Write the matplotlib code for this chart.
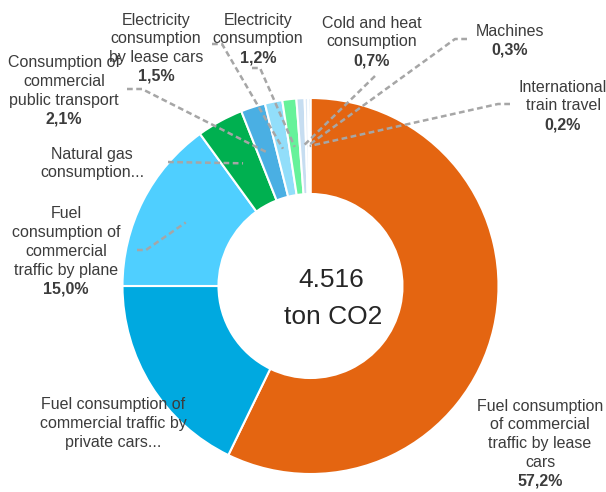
import matplotlib.pyplot as plt
import numpy as np

plt.rcParams['font.family'] = ['Liberation Sans', 'DejaVu Sans']

# data, clockwise from 12 o'clock
names = [
    "Fuel consumption\nof commercial\ntraffic by lease\ncars",
    "Fuel consumption of\ncommercial traffic by\nprivate cars...",
    "Fuel\nconsumption of\ncommercial\ntraffic by plane",
    "Natural gas\nconsumption...",
    "Consumption of\ncommercial\npublic transport",
    "Electricity\nconsumption\nby lease cars",
    "Electricity\nconsumption",
    "Cold and heat\nconsumption",
    "Machines",
    "International\ntrain travel",
]
shares = [57.2, 17.8, 15.0, 4.0, 2.1, 1.5, 1.2, 0.7, 0.3, 0.2]
show_pct = [True, False, True, False, True, True, True, True, True, True]
colors = ['#E46511', '#00A9E0', '#4FCFFF', '#00B050', '#4AAFE3',
          '#92DEFA', '#66F29A', '#C6DDF1', '#DCE9F6', '#B4D3EE']
total_text = ["4.516", "ton CO2"]

# layout (pixel coords, y from top)
W, H = 606, 492
cx, cy = 310.5, 286
R = 188
ring = 96
label_pos = [(540, 406), (113, 405), (66, 214), (92, 154), (64, 63),
             (156, 20), (258, 20), (372, 23), (510, 31), (563, 87)]
leader_pts = [None, None, [(137, 250), (146, 250)], [(168, 162)],
              [(127, 89), (142, 89)], [(212, 44), (222, 44)],
              [(252, 68), (260, 68)], [(375, 76)],
              [(467, 39), (455, 39)], [(510, 104), (498, 104)]]
line_step = 18.8
txt_color = '#3C3C3C'


def py(y):
    return H - y


fig = plt.figure(figsize=(W / 100, H / 100), dpi=100)
ax = fig.add_axes([0, 0, 1, 1])

wedges, _ = ax.pie(shares, colors=colors, startangle=90, counterclock=False,
                   radius=R, center=(cx, py(cy)),
                   wedgeprops=dict(width=ring, edgecolor='white', linewidth=1.5))

ax.set_xlim(0, W)
ax.set_ylim(0, H)
ax.set_aspect('equal')
ax.axis('off')

# leader lines
r_mid = R - ring / 2
for w, pts in zip(wedges, leader_pts):
    if pts is None:
        continue
    mid = np.deg2rad((w.theta1 + w.theta2) / 2)
    ex = cx + r_mid * np.cos(mid)
    ey = py(cy) + r_mid * np.sin(mid)
    xs = [p[0] for p in pts] + [ex]
    ys = [py(p[1]) for p in pts] + [ey]
    ax.plot(xs, ys, color='#A6A6A6', lw=1.8, ls=(0, (2.3, 1.4)), zorder=5)

# labels
for name, v, sp, (lx, ly) in zip(names, shares, show_pct, label_pos):
    lines = name.split("\n")
    for i, line in enumerate(lines):
        ax.text(lx, py(ly + i * line_step), line, ha='center', va='center',
                fontsize=11.5, color=txt_color, zorder=6)
    if sp:
        pct = f"{v:.1f}".replace('.', ',') + '%'
        ax.text(lx, py(ly + len(lines) * line_step), pct, ha='center',
                va='center', fontsize=11.5, fontweight='bold',
                color=txt_color, zorder=6)

# center total
ax.text(331, py(280), total_text[0], ha='center', va='center',
        fontsize=19, color='#262626')
ax.text(333, py(317), total_text[1], ha='center', va='center',
        fontsize=19, color='#262626')

plt.savefig('out.png', dpi=100)
